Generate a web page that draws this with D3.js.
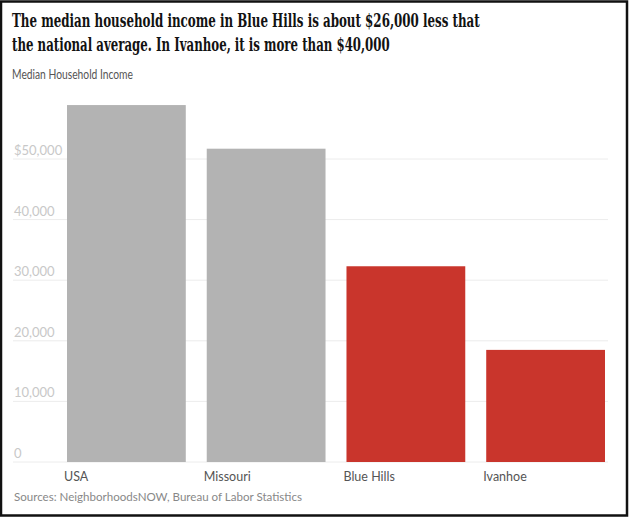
<!DOCTYPE html>
<html><head><meta charset="utf-8">
<script src="https://cdn.jsdelivr.net/npm/d3@7"></script>
<style>html,body{margin:0;padding:0;background:#fff;}svg{display:block;}</style>
</head><body>
<svg id="c" width="630" height="517"></svg>
<script>
const categories = ["USA", "Missouri", "Blue Hills", "Ivanhoe"];
const values = [58900, 51700, 32300, 18500];
const highlight = [false, false, true, true];
const tickValues = [0, 10000, 20000, 30000, 40000, 50000];
const tickLabels = ["0", "10,000", "20,000", "30,000", "40,000", "$50,000"];
const titleLines = ["The median household income in Blue Hills is about $26,000 less that", "the national average. In Ivanhoe, it is more than $40,000"];
const subtitle = "Median Household Income";
const source = "Sources: NeighborhoodsNOW, Bureau of Labor Statistics";

const svg = d3.select("#c");
const W = 630, H = 517;
svg.append("rect").attr("x",0).attr("y",0).attr("width",W).attr("height",H).attr("fill","#fff");

const x = d3.scaleBand().domain(categories).range([67, 605]).paddingInner(0.15).paddingOuter(0);
const y = d3.scaleLinear().domain([0, 10000]).range([462, 401.4]);

// gridlines
svg.append("g").selectAll("line").data(tickValues).join("line")
  .attr("x1", 13).attr("x2", 608)
  .attr("y1", d => y(d)).attr("y2", d => y(d))
  .attr("stroke", "#ececec").attr("stroke-width", 1);

svg.append("g").selectAll("text").data(tickValues).join("text")
  .attr("x", 14).attr("y", d => y(d) - 4)
  .attr("font-family", "Lato, 'Open Sans', sans-serif").attr("font-size", 13)
  .attr("fill", "#c8c8c8")
  .text((d,i) => tickLabels[i]);

// bars
svg.append("g").selectAll("rect").data(categories).join("rect")
  .attr("x", d => x(d)).attr("width", x.bandwidth())
  .attr("y", (d,i) => y(values[i])).attr("height", (d,i) => y(0) - y(values[i]))
  .attr("fill", (d,i) => highlight[i] ? "#c9352c" : "#b3b3b3");

// category labels
svg.append("g").selectAll("text").data(categories).join("text")
  .attr("x", d => x(d) - 3).attr("y", 481)
  .attr("font-family", "Lato, 'Open Sans', sans-serif").attr("font-size", 12.5)
  .attr("fill", "#555")
  .text(d => d);

// title (horizontally scaled to match the narrow headline face)
const titleWidths = [468, 378];
titleLines.forEach((line, i) => {
  const g = svg.append("g");
  const t = g.append("text").attr("x", 0).attr("y", 0)
    .attr("font-family", "'DejaVu Serif', 'Liberation Serif', serif").attr("font-weight", "bold")
    .attr("font-stretch", "condensed")
    .attr("font-size", 18.5).attr("fill", "#121212")
    .text(line);
  const w = t.node().getComputedTextLength();
  g.attr("transform", `translate(12,${27 + i*24}) scale(${titleWidths[i]/w},1)`);
});

svg.append("text").attr("x", 12).attr("y", 79)
  .attr("font-family", "Lato, 'Open Sans', sans-serif").attr("font-size", 13)
  .attr("fill", "#555").attr("textLength", 121).attr("lengthAdjust", "spacingAndGlyphs")
  .text(subtitle);

svg.append("text").attr("x", 14).attr("y", 501)
  .attr("font-family", "Lato, 'Open Sans', sans-serif").attr("font-size", 12)
  .attr("fill", "#888").attr("textLength", 288).attr("lengthAdjust", "spacingAndGlyphs")
  .text(source);

// frame
svg.append("rect").attr("x", 1).attr("y", 1.5).attr("width", 626).attr("height", 514)
  .attr("fill", "none").attr("stroke", "#111").attr("stroke-width", 2.5);
</script>
</body></html>
